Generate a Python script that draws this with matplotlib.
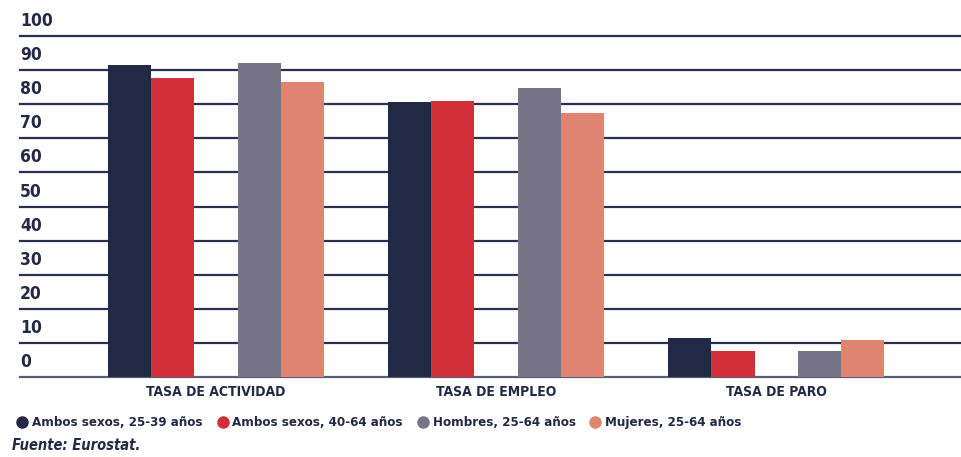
import numpy as np
import matplotlib.pyplot as plt
from matplotlib.lines import Line2D
import matplotlib.transforms as mtransforms

categorias = ['TASA DE ACTIVIDAD', 'TASA DE EMPLEO', 'TASA DE PARO']
series = ['Ambos sexos, 25-39 años', 'Ambos sexos, 40-64 años',
          'Hombres, 25-64 años', 'Mujeres, 25-64 años']
ambos_25_39 = [91.5, 80.6, 11.4]
ambos_40_64 = [87.8, 81.1, 7.5]
hombres = [92.1, 84.8, 7.5]
mujeres = [86.6, 77.3, 10.8]
y_ticks = [0, 10, 20, 30, 40, 50, 60, 70, 80, 90, 100]

colores = ['#212944', '#d12f3a', '#787488', '#e08472']
texto = '#222a45'

plt.rcParams['font.family'] = ['DejaVu Sans']
plt.rcParams['font.stretch'] = 'condensed'
plt.rcParams['font.weight'] = 'bold'

fig = plt.figure(figsize=(9.62, 4.57), dpi=100)
ax = fig.add_axes([0.0208, 0.175, 0.9792, 0.746])

x = np.arange(len(categorias))
w = 0.154
# five slots per group, the middle one left empty
offsets = [-2 * w, -w, w, 2 * w]
for vals, off, col in zip([ambos_25_39, ambos_40_64, hombres, mujeres], offsets, colores):
    ax.bar(x + off, vals, width=w, color=col, zorder=3)

ax.set_xlim(-0.7, 2.664)
ax.set_ylim(0, 100)

for v in y_ticks:
    ax.axhline(v, color='#2a3050' if v > 0 else '#5a5e74', lw=1.6, zorder=1, clip_on=False)

# value labels sit just above their grid line
lbl_tr = mtransforms.offset_copy(
    mtransforms.blended_transform_factory(ax.transAxes, ax.transData),
    fig=fig, x=0, y=6, units='dots')
for v in y_ticks:
    ax.text(0.0, v, str(v), transform=lbl_tr, ha='left', va='bottom',
            fontsize=12.5, fontweight='bold', fontstretch='condensed', color=texto)

ax.set_xticks(x)
ax.set_xticklabels(categorias, fontsize=10, fontweight='bold', color=texto)
ax.tick_params(axis='x', length=0, pad=6)
ax.set_yticks([])
for s in ax.spines.values():
    s.set_visible(False)

handles = [Line2D([], [], marker='o', ls='', markersize=8, markerfacecolor=c,
                  markeredgecolor=c) for c in colores]
fig.legend(handles, series, loc='center left', bbox_to_anchor=(0.004, 0.075),
           ncol=4, frameon=False, handletextpad=0.25, columnspacing=1.0,
           handlelength=1.0,
           prop={'family': 'DejaVu Sans', 'stretch': 'condensed', 'weight': 'bold', 'size': 9.5},
           labelcolor=texto)

fig.text(0.012, 0.025, 'Fuente: Eurostat.', fontsize=10.5, fontweight='bold',
         fontstyle='italic', fontstretch='condensed', color=texto, ha='left', va='center')

fig.savefig('out.png', dpi=100)
